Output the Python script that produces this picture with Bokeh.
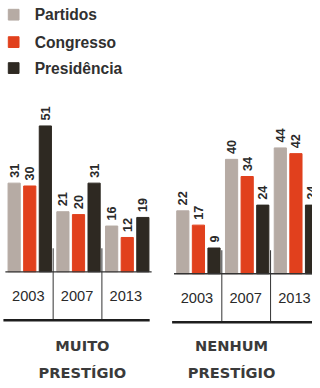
import math
from bokeh.plotting import figure
from bokeh.models import Range1d, ColumnDataSource
from bokeh.core.properties import value
from bokeh.embed import file_html
from bokeh.resources import INLINE

# ---------------- data ----------------
years = ["2003", "2007", "2013"]
series = ["Partidos", "Congresso", "Presidência"]
panel_titles = [("MUITO", "PRESTÍGIO"), ("NENHUM", "PRESTÍGIO")]

muito_partidos = [31, 21, 16]
muito_congresso = [30, 20, 12]
muito_presidencia = [51, 31, 19]

nenhum_partidos = [22, 40, 44]
nenhum_congresso = [17, 34, 42]
nenhum_presidencia = [9, 24, 24]

panels = [
    [muito_partidos, muito_congresso, muito_presidencia],
    [nenhum_partidos, nenhum_congresso, nenhum_presidencia],
]

# ---------------- style / layout ----------------
colors = ["#b6aba4", "#e1401d", "#2e2922"]
ink = "#2a2a2a"
FONT = value("Liberation Sans")
TITLE_FONT = value("DejaVu Sans")

W, H = 312, 380          # drawable size (fits the window with its 8px margin)
S = W / 320.0            # drawing scale vs. the 320x388 design grid
def fs(px):
    return f"{px * S:.2f}px"

K = 2.92            # design pixels per unit
BASE = 277          # panel-1 baseline (design px)
def Y(ref):         # design-pixel y -> data value
    return (BASE - ref) / K

panel_x0 = [14, 187]        # first bar center of each panel
panel_base = [277, 279]     # baseline of each panel
panel_title_x = [84, 237]
GROUP = 50
STEP = 16
BAR_W = 12.5

p = figure(width=W, height=H, output_backend="svg", toolbar_location=None,
           x_range=Range1d(0, 320), y_range=Range1d(Y(388), Y(0)),
           x_axis_type=None, y_axis_type=None, min_border=0,
           outline_line_color=None, background_fill_color="white",
           border_fill_color="white")
p.grid.visible = False

# ---------------- bars and value labels ----------------
for pi, vals in enumerate(panels):
    b = Y(panel_base[pi])
    for si, svals in enumerate(vals):
        xs = [panel_x0[pi] + gi * GROUP + si * STEP for gi in range(len(years))]
        tops = [b + v for v in svals]
        src = ColumnDataSource(dict(x=xs, top=tops, lab=[str(v) for v in svals],
                                    ly=[t + 1.9 for t in tops]))
        p.vbar(x="x", top="top", bottom=b, width=BAR_W, color=colors[si], source=src)
        p.text(x="x", y="ly", text="lab", source=src, angle=math.pi / 2,
               text_align="left", text_baseline="middle", text_font=FONT,
               text_font_style="bold", text_font_size=fs(13), text_color=ink)

    # baseline
    left = panel_x0[pi] - 9
    right = panel_x0[pi] + 2 * GROUP + 2 * STEP + 9
    p.segment(x0=[left], y0=[b], x1=[right], y1=[b], line_color="#333333", line_width=1.3)
    # separators
    sep_x = [panel_x0[pi] + gi * GROUP + STEP + 24 for gi in range(len(years) - 1)]
    bottom_ref = panel_base[pi] + 49.5
    p.segment(x0=sep_x, y0=[Y(panel_base[pi] - 24)] * 2, x1=sep_x, y1=[Y(bottom_ref)] * 2,
              line_color="#333333", line_width=1)
    # thick bottom rule
    p.segment(x0=[left - 2], y0=[Y(bottom_ref)], x1=[right - 2], y1=[Y(bottom_ref)],
              line_color="#1e1e1e", line_width=2.6)
    # year labels
    yx = [panel_x0[pi] + gi * GROUP + STEP - 1.5 for gi in range(len(years))]
    p.text(x=yx, y=[Y(panel_base[pi] + 25)] * 3, text=years, text_align="center",
           text_baseline="middle", text_font=FONT, text_font_size=fs(15), text_color=ink)
    # panel title
    t1, t2 = panel_titles[pi]
    p.text(x=[panel_title_x[pi]] * 2, y=[Y(352.5), Y(379.5)], text=[t1, t2],
           text_align="center", text_baseline="middle", text_font=TITLE_FONT,
           text_font_style="bold", text_font_size=fs(15), text_color="#3a3a3a")

# ---------------- legend ----------------
leg_y = [14.5, 42.5, 69]
p.rect(x=[13.5] * 3, y=[Y(v) for v in leg_y], width=11, height=11 / K,
       color=colors)
p.text(x=[35] * 3, y=[Y(v) for v in leg_y], text=series, text_align="left",
       text_baseline="middle", text_font=FONT, text_font_style="bold",
       text_font_size=fs(16), text_color="#303030")

open("out.html", "w").write(file_html(p, INLINE))
